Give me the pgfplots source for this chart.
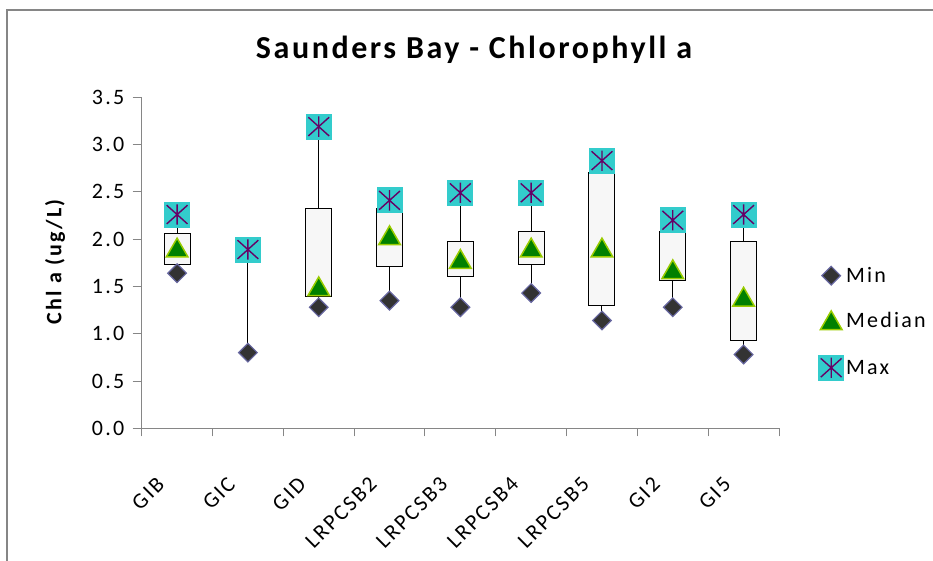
\documentclass[border=0pt]{standalone}
\usepackage{fontspec}
\setmainfont{Carlito}[LetterSpace=10]
\newfontfamily\titlefont{Carlito}[LetterSpace=8]
\usepackage{pgfplots}
\pgfplotsset{compat=1.18}
\usepgfplotslibrary{statistics}

\definecolor{axgray}{HTML}{868686}
\definecolor{minfill}{HTML}{333333}
\definecolor{minedge}{HTML}{66669F}
\definecolor{medfill}{HTML}{008000}
\definecolor{mededge}{HTML}{99CC00}
\definecolor{maxfill}{HTML}{33CCCC}
\definecolor{maxstar}{HTML}{660066}
\definecolor{boxfill}{HTML}{F7F7F7}

% Excel-style "star" marker: cyan square with a purple asterisk
\pgfdeclareplotmark{xlmax}{%
  \pgfpathrectangle{\pgfqpoint{-\pgfplotmarksize}{-\pgfplotmarksize}}{\pgfqpoint{2\pgfplotmarksize}{2\pgfplotmarksize}}%
  \pgfsetfillcolor{maxfill}\pgfusepathqfill
  \pgfsetstrokecolor{maxstar}\pgfsetlinewidth{1.4pt}%
  \pgfpathmoveto{\pgfqpoint{0pt}{0.78\pgfplotmarksize}}\pgfpathlineto{\pgfqpoint{0pt}{-0.78\pgfplotmarksize}}%
  \pgfpathmoveto{\pgfqpoint{-0.8\pgfplotmarksize}{0.72\pgfplotmarksize}}\pgfpathlineto{\pgfqpoint{0.8\pgfplotmarksize}{-0.72\pgfplotmarksize}}%
  \pgfpathmoveto{\pgfqpoint{-0.8\pgfplotmarksize}{-0.72\pgfplotmarksize}}\pgfpathlineto{\pgfqpoint{0.8\pgfplotmarksize}{0.72\pgfplotmarksize}}%
  \pgfusepathqstroke}

\begin{document}
\begin{tikzpicture}
\path[use as bounding box] (0pt,0pt) rectangle (933pt,561pt);
\draw[axgray, line width=1.5pt] (7pt,0pt) -- (7pt,551pt) -- (933pt,551pt);

\node[font=\titlefont\fontsize{32}{36}\selectfont\bfseries] at (474pt,511pt) {Saunders Bay - Chlorophyll a};
\node[rotate=90, font=\fontsize{22}{26}\selectfont\bfseries] at (55pt,299pt) {Chl a (ug/L)};

\begin{axis}[
  scale only axis, width=637.3pt, height=331pt,
  at={(141.7pt,132.7pt)}, anchor=south west,
  xmin=-0.5, xmax=8.5, ymin=0, ymax=3.5,
  axis lines*=left,
  axis line style={axgray, line width=1pt},
  clip=false,
  tick align=outside,
  ytick={0,0.5,...,3.5},
  yticklabel style={xshift=-5pt, /pgf/number format/.cd, fixed, fixed zerofill, precision=1},
  /pgf/number format/assume math mode=true,
  major tick length=9pt, minor tick length=8pt,
  tick style={axgray, line width=1pt},
  xtick={0,...,8},
  xticklabels={GIB,GIC,GID,LRPCSB2,LRPCSB3,LRPCSB4,LRPCSB5,GI2,GI5},
  minor xtick={-0.5,0.5,...,8.5},
  major x tick style={draw=none},
  ticklabel style={font=\fontsize{22}{26}\selectfont},
  xticklabel style={xshift=-14pt, yshift=-41pt, rotate=45, anchor=east},
  boxplot/draw direction=y,
  boxplot/draw/median/.code={},
  boxplot/box extend=0.367, boxplot/whisker extend=0,
  legend style={at={(1,0.318)}, anchor=west, xshift=36pt, draw=none, fill=none,
    font=\fontsize{22}{26}\selectfont, row sep=24pt},
  legend cell align=left,
]
% boxes and whiskers: min, q1, q3, max
\addplot[black, line width=1pt, fill=boxfill, forget plot, boxplot prepared={draw position=0, lower whisker=1.64, lower quartile=1.73, median=1.91, upper quartile=2.06, upper whisker=2.26}] coordinates {};
\addplot[black, line width=1pt, fill=boxfill, forget plot, boxplot/draw/box/.code={}, boxplot prepared={draw position=1, lower whisker=0.80, lower quartile=0.80, median=0.80, upper quartile=0.80, upper whisker=1.89}] coordinates {};
\addplot[black, line width=1pt, fill=boxfill, forget plot, boxplot prepared={draw position=2, lower whisker=1.28, lower quartile=1.39, median=1.50, upper quartile=2.32, upper whisker=3.19}] coordinates {};
\addplot[black, line width=1pt, fill=boxfill, forget plot, boxplot prepared={draw position=3, lower whisker=1.35, lower quartile=1.71, median=2.04, upper quartile=2.32, upper whisker=2.41}] coordinates {};
\addplot[black, line width=1pt, fill=boxfill, forget plot, boxplot prepared={draw position=4, lower whisker=1.28, lower quartile=1.60, median=1.79, upper quartile=1.97, upper whisker=2.49}] coordinates {};
\addplot[black, line width=1pt, fill=boxfill, forget plot, boxplot prepared={draw position=5, lower whisker=1.43, lower quartile=1.73, median=1.91, upper quartile=2.08, upper whisker=2.49}] coordinates {};
\addplot[black, line width=1pt, fill=boxfill, forget plot, boxplot prepared={draw position=6, lower whisker=1.14, lower quartile=1.30, median=1.91, upper quartile=2.71, upper whisker=2.83}] coordinates {};
\addplot[black, line width=1pt, fill=boxfill, forget plot, boxplot prepared={draw position=7, lower whisker=1.28, lower quartile=1.56, median=1.68, upper quartile=2.08, upper whisker=2.20}] coordinates {};
\addplot[black, line width=1pt, fill=boxfill, forget plot, boxplot prepared={draw position=8, lower whisker=0.78, lower quartile=0.93, median=1.39, upper quartile=1.97, upper whisker=2.26}] coordinates {};

\addplot[only marks, mark=square*, mark size=6.6pt,
  mark options={rotate=45, fill=minfill, draw=minedge, line width=1.2pt}]
  coordinates {(0,1.64) (1,0.80) (2,1.28) (3,1.35) (4,1.28) (5,1.43) (6,1.14) (7,1.28) (8,0.78)};
\addlegendentry{Min}
\addplot[only marks, mark=triangle*, mark size=12.5pt,
  mark options={yshift=-3pt, fill=medfill, draw=mededge, line width=1.5pt}]
  coordinates {(0,1.91) (2,1.50) (3,2.04) (4,1.79) (5,1.91) (6,1.91) (7,1.68) (8,1.39)};
\addlegendentry{Median}
\addplot[only marks, mark=xlmax, mark size=13pt]
  coordinates {(0,2.26) (1,1.89) (2,3.19) (3,2.41) (4,2.49) (5,2.49) (6,2.83) (7,2.20) (8,2.26)};
\addlegendentry{Max}
\end{axis}
\end{tikzpicture}
\end{document}
